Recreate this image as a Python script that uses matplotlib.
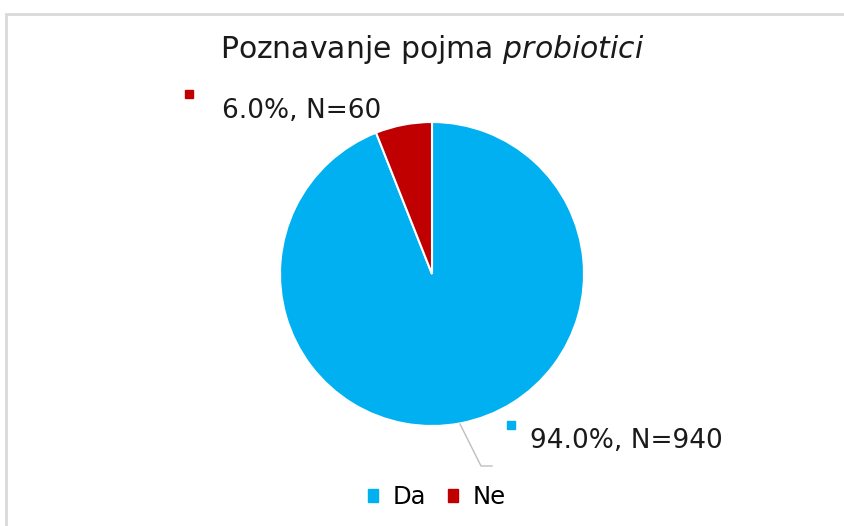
import numpy as np
import matplotlib.pyplot as plt

plt.rcParams["font.family"] = ["DejaVu Sans"]

labels = ["Da", "Ne"]
counts = [940, 60]
percents = [94.0, 6.0]
colors = ["#00B0F0", "#C00000"]

W, H = 844, 526
fig = plt.figure(figsize=(W / 100, H / 100), dpi=100)
ax = fig.add_axes([0, 0, 1, 1])

# pie centre / radius in pixel units (y measured from bottom)
cx, cy, r = 432, H - 274, 152
wedges, _ = ax.pie(counts, colors=colors, startangle=90, counterclock=False,
                   center=(cx, cy), radius=r, frame=True,
                   wedgeprops=dict(edgecolor="white", linewidth=1.5))
ax.set_xlim(0, W)
ax.set_ylim(0, H)
ax.set_aspect("equal")
ax.axis("off")

# outer border
border = plt.Rectangle((6, -10), W + 10, H - 14 + 10, fill=False,
                       edgecolor="#D9D9D9", linewidth=2)
ax.add_patch(border)

ax.text(cx, H - 50, "Poznavanje pojma $\\it{probiotici}$", ha="center",
        va="center", fontsize=21.5, color="#1a1a1a")

# data labels
lab_fmt = "{:.1f}%, N={}"
ax.plot(189, H - 94, marker="s", markersize=6, color=colors[1], linestyle="none")
ax.text(222, H - 111, lab_fmt.format(percents[1], counts[1]), ha="left",
        va="center", fontsize=19, color="#1a1a1a")

ax.plot(511, H - 425, marker="s", markersize=6, color=colors[0], linestyle="none")
ax.text(530, H - 441, lab_fmt.format(percents[0], counts[0]), ha="left",
        va="center", fontsize=19, color="#1a1a1a")
ax.plot([460, 481, 492], [H - 424, H - 466, H - 466], color="#BFBFBF",
        linewidth=1)

handles = [plt.Rectangle((0, 0), 1, 1, color=c) for c in colors]
fig.legend(handles, labels, loc="center", bbox_to_anchor=(437 / W, 1 - 497 / H),
           ncol=2, frameon=False, fontsize=17.5, handlelength=0.42,
           handleheight=0.42, handletextpad=0.6, columnspacing=0.9)

fig.savefig("out.png", dpi=100)
